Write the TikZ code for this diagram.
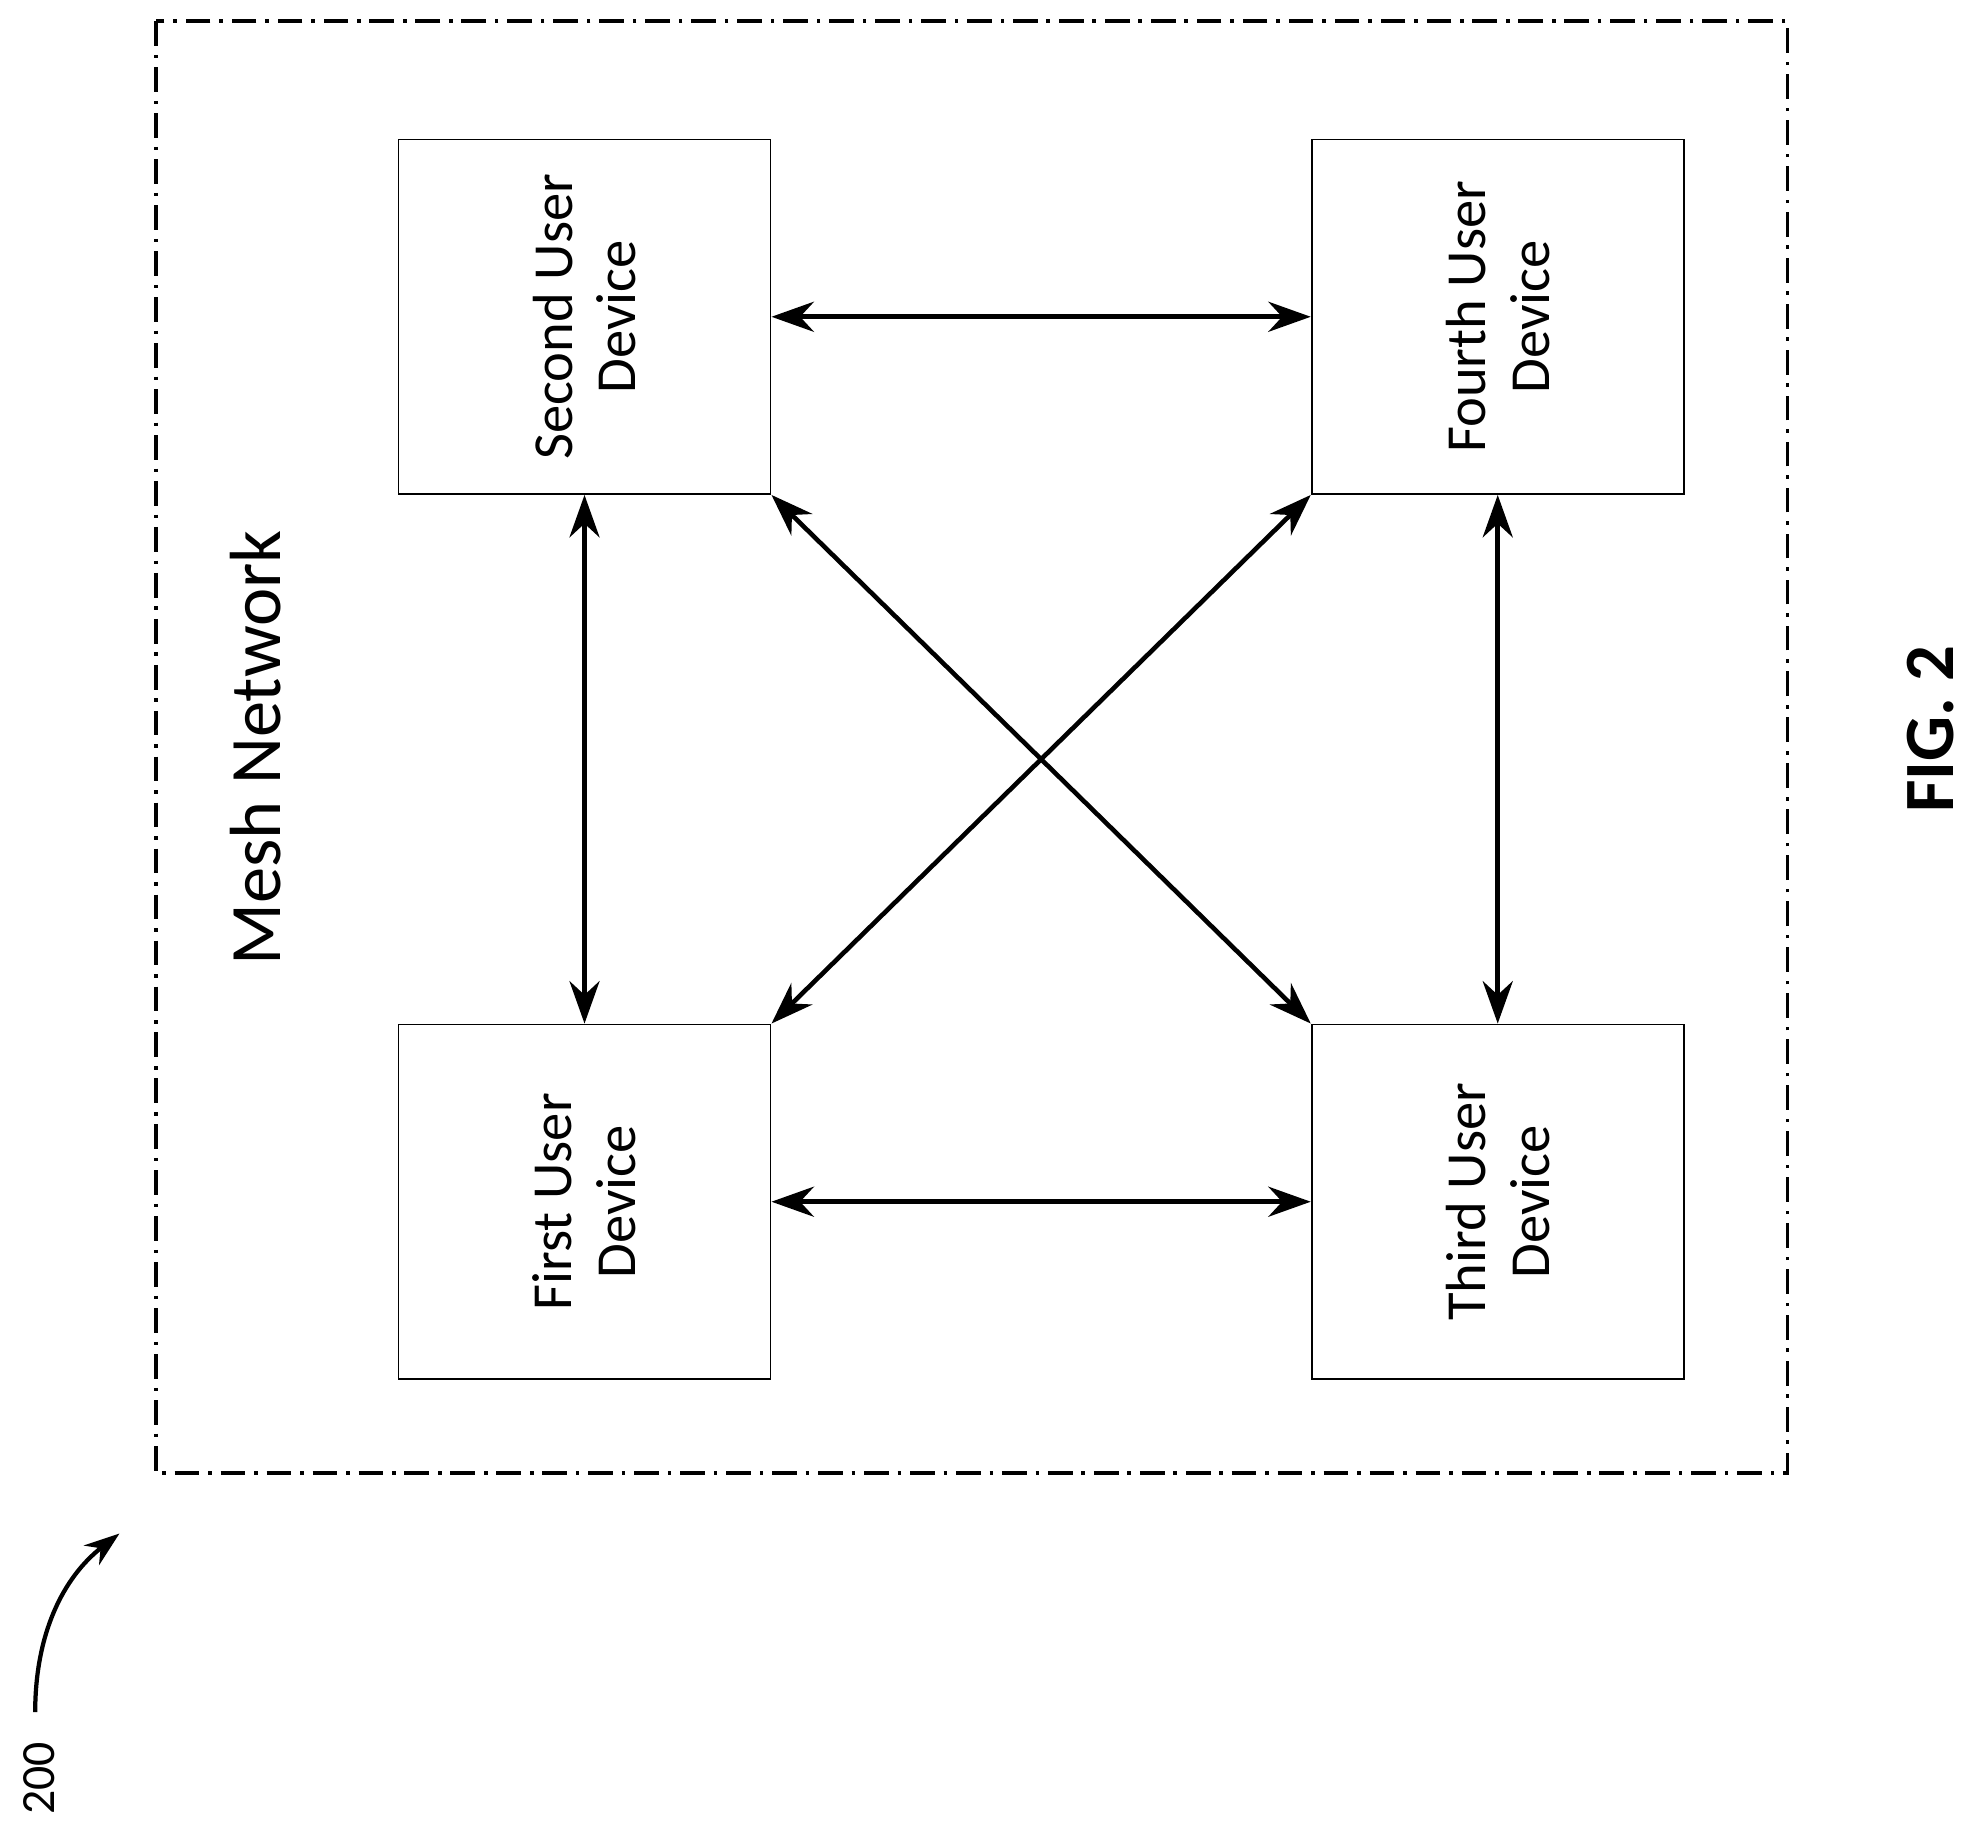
\documentclass[tikz,border=0pt]{standalone}
\usepackage{fontspec}
\setmainfont{Carlito}
\usetikzlibrary{arrows.meta}

\tikzset{
  device/.style={draw, line width=1pt, minimum width=7.4cm, minimum height=7.05cm},
  devlabel/.style={rotate=90, align=center, font=\fontsize{32}{36}\selectfont},
  link/.style={line width=2.6pt, {Stealth[length=24pt,width=17pt]}-{Stealth[length=24pt,width=17pt]}}
}

\begin{document}
\begin{tikzpicture}[x=0.025cm, y=-0.025cm]
\useasboundingbox (0,0) rectangle (1568,1462);
% frame
\draw[line width=2.2pt, dash pattern=on 14pt off 5pt on 2pt off 5pt] (124,17) rectangle (1422,1172);
\node[rotate=90, font=\fontsize{41}{46}\selectfont] (mesh) at (203,595) {Mesh Network};
% devices
\node[device] (second) at (465,252) {};
\node[device] (fourth) at (1191.5,252) {};
\node[device] (first) at (465,956) {};
\node[device] (third) at (1191.5,956) {};
\node[devlabel] at (second) {Second User\\Device};
\node[devlabel] at (fourth) {Fourth User\\Device};
\node[devlabel] at (first) {First User\\Device};
\node[devlabel] at (third) {Third User\\Device};
% links
\draw[link] (second) -- (fourth);
\draw[link] (first) -- (third);
\draw[link] (second) -- (first);
\draw[link] (fourth) -- (third);
\draw[link] (second.south east) -- (third.north west);
\draw[link] (fourth.south west) -- (first.north east);
% labels
\node[rotate=90, font=\bfseries\fontsize{40}{46}\selectfont] (fig) at (1536,580) {FIG. 2};
\node[rotate=90, font=\fontsize{27}{32}\selectfont] (num) at (31,1415) {200};
\coordinate (tip) at (95,1220);
\draw[line width=2.4pt, -{Stealth[length=20pt,width=14pt]}] (28,1362) .. controls (28,1300) and (50,1255) .. (tip);
\end{tikzpicture}
\end{document}
